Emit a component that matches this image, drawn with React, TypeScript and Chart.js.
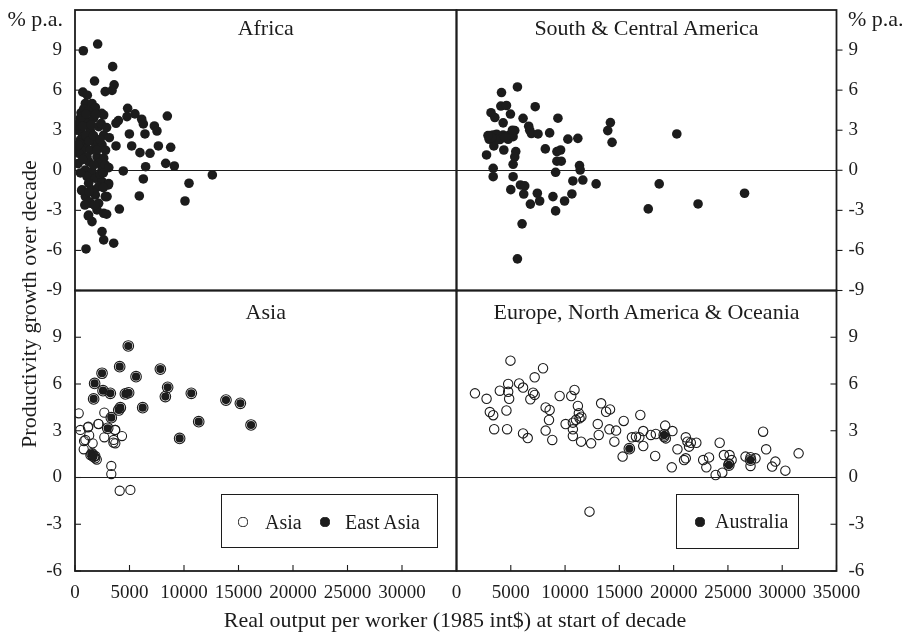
import React, { useEffect, useRef } from 'react';
import { Chart, registerables } from 'chart.js';

Chart.register(...registerables);

const FONT = "'Liberation Serif', 'Times New Roman', serif";
const INK = '#1c1c1c';
const W = 905;
const H = 633;

// ---- data: [real output per worker (1985 int$), productivity growth % p.a.] ----
const africa: number[][] = [
  [765, 8.95], [2080, 9.45], [3455, 7.76], [1790, 6.68], [3590, 6.4], [2770, 5.89], [3400, 5.98], [720, 5.85], [1130, 5.62],
  [950, 5.0], [1560, 5.0], [1865, 4.7], [2630, 4.14], [2450, 4.26], [490, 3.9], [340, 3.5], [1100, 3.64], [1710, 3.9],
  [2170, 3.27], [1400, 3.0], [640, 2.77], [490, 2.27], [950, 1.9], [640, 1.5], [340, 1.27], [1400, 1.5], [1865, 2.0],
  [2480, 1.9], [2630, 2.64], [2020, 1.0], [2630, 0.9], [2170, 0.52], [1250, 0.65], [950, 0.02], [1560, -0.1], [2480, 0.02],
  [2780, 0.4], [1100, -0.47], [1865, -0.6], [1250, -0.97], [2480, -0.85], [3090, -1.0], [640, -1.47], [1560, -1.47],
  [2170, -1.22], [950, -1.97], [1865, -1.85], [2780, -1.97], [1400, -2.47], [2170, -2.47], [2020, -2.97], [2630, -3.22],
  [1250, -3.35], [1560, -3.84], [2900, -3.29], [4070, -2.9], [2940, -1.97], [2480, -4.59], [2630, -5.21], [3550, -5.46],
  [1010, -5.89], [4830, 4.64], [5500, 4.22], [4770, 4.02], [3980, 3.72], [3760, 3.52], [6120, 3.82], [6270, 3.47],
  [7280, 3.32], [7520, 2.94], [8470, 4.06], [4990, 2.72], [6420, 2.72], [3150, 2.44], [5200, 1.82], [3760, 1.82],
  [7650, 1.82], [8780, 1.72], [5960, 1.32], [6880, 1.27], [8320, 0.52], [9110, 0.32], [6480, 0.27], [4430, -0.05],
  [6270, -0.65], [5900, -1.92], [10460, -0.97], [10090, -2.3], [12600, -0.35], [3060, -1.1], [1320, -2.35], [610, -1.52],
  [1770, -1.72], [1220, -3.42], [180, 3.0], [180, 1.8], [280, 0.5], [400, 2.0], [550, 4.3], [800, 4.6], [1200, 4.4],
  [1900, 4.2], [300, 1.9], [700, 3.3], [1000, 2.6], [1300, 2.2], [1700, 2.6], [2300, 2.3], [2000, 1.5], [1100, 1.0],
  [700, 0.8], [500, -0.2], [1700, 0.4], [2300, -0.3], [2600, -1.3], [1300, -1.6], [900, -2.6], [1800, -2.6], [600, 4.0],
  [1500, 3.4], [2400, 3.5], [2900, 3.2], [2800, 1.5], [2600, -0.2], [3100, 0.2], [1000, 4.2],
];

const southCentralAmerica: number[][] = [
  [5612, 6.24], [4144, 5.82], [4083, 4.81], [4602, 4.85], [3180, 4.31], [3532, 3.95], [4297, 3.55], [4969, 4.21],
  [6131, 3.89], [7250, 4.76], [6650, 3.3], [6743, 3.0], [6900, 2.75], [7507, 2.72], [5367, 2.97], [5214, 2.52],
  [4755, 2.32], [4297, 2.64], [3379, 2.64], [3012, 2.32], [3440, 1.82], [4358, 1.52], [2767, 1.15], [5459, 1.4],
  [5367, 1.0], [5214, 0.45], [3379, 0.15], [3379, -0.48], [5214, -0.48], [5000, -1.45], [5887, -1.1], [6284, -1.17],
  [6193, -1.78], [6804, -2.53], [6040, -4.01], [5612, -6.63], [7446, -1.72], [7660, -2.3], [8578, 2.8], [8180, 1.6],
  [9342, 3.9], [9250, 1.4], [9587, 1.52], [9250, 0.68], [9648, 0.68], [9128, -0.15], [8884, -1.97], [9128, -3.04],
  [9954, -2.3], [10260, 2.33], [11177, 2.39], [10719, -0.8], [10627, -1.77], [11330, 0.35], [11391, 0.02], [11636, -0.73],
  [12860, -1.02], [13930, 2.97], [14175, 3.57], [14328, 2.09], [17661, -2.89], [18671, -1.02], [20291, 2.72],
  [22249, -2.52], [26530, -1.72], [3100, 2.6], [3700, 2.7], [4000, 2.3], [3600, 2.3], [4800, 2.6], [5100, 2.7],
  [3250, 2.45], [4500, 2.45], [5150, 3.0], [2900, 2.6],
];

const eastAsia: number[][] = [
  [4890, 8.44], [4100, 7.11], [2480, 6.69], [5600, 6.47], [7830, 6.96], [1800, 6.04], [8500, 5.79], [8290, 5.19],
  [10670, 5.4], [13850, 4.97], [15170, 4.76], [2570, 5.57], [3240, 5.4], [4620, 5.36], [4920, 5.44], [1710, 5.04],
  [4160, 4.48], [4010, 4.33], [6210, 4.48], [3330, 3.84], [11350, 3.58], [16150, 3.37], [3000, 3.16], [9600, 2.51],
  [1560, 1.51], [1700, 1.35],
];

const asiaOther: number[][] = [
  [340, 4.12], [2690, 4.16], [2170, 3.43], [490, 3.05], [1190, 3.22], [3700, 3.05], [4310, 2.66], [2690, 2.58],
  [3550, 2.41], [3700, 2.19], [950, 2.41], [800, 1.81], [1620, 2.19], [1865, 1.38], [1860, 1.23], [1410, 1.44],
  [3330, 0.74], [3330, 0.22], [4100, -0.85], [5080, -0.8], [830, 2.34], [1220, 3.26], [2140, 3.44], [3670, 3.05],
  [3520, 2.24], [2000, 1.15], [1300, 2.7], [1600, 1.5],
];

const australia: number[][] = [
  [15920, 1.85], [19130, 2.73], [25090, 0.8], [27080, 1.12],
];

const europeNAOceania: number[][] = [
  [1700, 5.4], [2770, 5.05], [3070, 4.2], [3380, 4.0], [3470, 3.1], [4600, 4.3], [4660, 3.1], [4970, 7.5], [4760, 6.0],
  [4760, 5.5], [4850, 5.05], [3990, 5.57], [5770, 6.04], [6130, 5.77], [7050, 5.44], [7200, 5.3], [6800, 5.02],
  [7200, 6.43], [7970, 7.01], [6130, 2.83], [6560, 2.53], [8210, 4.5], [8580, 4.33], [8520, 3.69], [8210, 3.01],
  [8820, 2.41], [9500, 5.23], [10570, 5.23], [10870, 5.62], [10050, 3.43], [10720, 3.52], [10720, 3.09], [10720, 2.66],
  [11180, 4.59], [11270, 4.12], [11330, 3.8], [11000, 3.7], [11500, 3.9], [11480, 2.3], [12400, 2.19], [13010, 3.43],
  [13100, 2.73], [13320, 4.76], [13780, 4.22], [14140, 4.37], [14080, 3.09], [14700, 3.01], [14540, 2.3], [15400, 3.63],
  [15300, 1.34], [16160, 2.58], [16530, 2.62], [16840, 2.58], [16930, 4.01], [17200, 2.98], [17900, 2.73], [18360, 2.79],
  [17200, 2.02], [18300, 1.38], [19220, 3.33], [19890, 2.98], [19130, 2.6], [19280, 2.51], [19830, 0.65], [20350, 1.81],
  [21120, 2.58], [21270, 2.3], [21580, 2.23], [22090, 2.23], [21420, 1.98], [21120, 1.23], [20960, 1.12], [22720, 1.12],
  [23260, 1.29], [23010, 0.65], [24240, 2.23], [23870, 0.16], [24480, 0.31], [24630, 1.44], [25150, 1.44], [25340, 1.12],
  [25090, 0.9], [26620, 1.34], [27080, 0.74], [27540, 1.23], [27080, 1.3], [28240, 2.94], [28520, 1.81], [29070, 0.7],
  [29370, 1.02], [30290, 0.44], [31510, 1.55], [12250, -2.19],
];

const X_MAX = 35000;
const X_STEP = 5000;
const Y_STEP = 3;
const Y_MAX = 12;

const pts = (arr: number[][]) => arr.map(([x, y]) => ({ x, y }));

const filled = (label: string, arr: number[][], r: number, order = 0) => ({
  label, data: pts(arr), order,
  pointRadius: r, pointBackgroundColor: INK, pointBorderColor: INK, pointBorderWidth: 0,
  showLine: false,
});
// open circles; members of the highlighted sub-group get a slightly larger ring
const hollow = (label: string, base: number[][], sub: number[][], r: number, rSub: number, order = 1) => ({
  label, data: pts([...base, ...sub]), order,
  pointRadius: [...base.map(() => r), ...sub.map(() => rSub)],
  pointBackgroundColor: 'rgba(0,0,0,0)', pointBorderColor: INK, pointBorderWidth: 1.1,
  showLine: false,
});

type Panel = {
  id: string; left: number; top: number; right: number; bottom: number;
  yMin: number; yPos: 'left' | 'right'; yOut: boolean;
  xLabels: boolean; hideLastX: boolean; xTicks: boolean;
  datasets: any[];
};

const panels: Panel[] = [
  { id: 'africa', left: 75, top: 10, right: 456.5, bottom: 290.5, yMin: -9, yPos: 'left', yOut: false,
    xLabels: false, hideLastX: true, xTicks: false, datasets: [filled('Africa', africa, 4.8)] },
  { id: 'sca', left: 456.5, top: 10, right: 836.5, bottom: 290.5, yMin: -9, yPos: 'right', yOut: true,
    xLabels: false, hideLastX: false, xTicks: false, datasets: [filled('South & Central America', southCentralAmerica, 4.8)] },
  { id: 'asia', left: 75, top: 290.5, right: 456.5, bottom: 571, yMin: -6, yPos: 'left', yOut: false,
    xLabels: true, hideLastX: true, xTicks: true,
    datasets: [filled('East Asia', eastAsia, 4.1, 0), hollow('Asia', asiaOther, eastAsia, 4.6, 5.3, 1)] },
  { id: 'enao', left: 456.5, top: 290.5, right: 836.5, bottom: 571, yMin: -6, yPos: 'right', yOut: false,
    xLabels: true, hideLastX: false, xTicks: true,
    datasets: [filled('Australia', australia, 4.2, 0), hollow('Europe, North America & Oceania', europeNAOceania, australia, 4.7, 5.3, 1)] },
];

const Y_AXIS_W = 45;
const X_AXIS_H = 40;

const framePlugin = {
  id: 'panelFrame',
  afterDatasetsDraw(chart: any, _args: any, opts: any) {
    const { ctx, chartArea: a, scales } = chart;
    ctx.save();
    ctx.strokeStyle = INK;
    ctx.lineWidth = 1.1;
    const ys = scales.y;
    const onRight = ys.position === 'right';
    const edge = onRight ? a.right : a.left;
    const sign = (onRight ? -1 : 1) * (opts.yOut ? -1 : 1);
    ys.ticks.forEach((t: any) => {
      if (t.value >= ys.max) return;
      const py = ys.getPixelForValue(t.value);
      ctx.beginPath();
      ctx.moveTo(edge, py);
      ctx.lineTo(edge + sign * 6, py);
      ctx.stroke();
    });
    if (opts.xTicks) {
      const xs = scales.x;
      xs.ticks.forEach((t: any) => {
        const px = xs.getPixelForValue(t.value);
        ctx.beginPath();
        ctx.moveTo(px, a.bottom);
        ctx.lineTo(px, a.bottom - 6);
        ctx.stroke();
      });
    }
    ctx.lineWidth = 1.8;
    ctx.strokeRect(a.left, a.top, a.right - a.left, a.bottom - a.top);
    ctx.restore();
  },
};

const zeroPad = (s: any) => {
  s.paddingLeft = 0; s.paddingRight = 0; s.paddingTop = 0; s.paddingBottom = 0;
};

function PanelChart({ p }: { p: Panel }) {
  const ref = useRef<HTMLCanvasElement>(null);
  useEffect(() => {
    const xH = p.xLabels ? X_AXIS_H : 0;
    const padLeft = p.yPos === 'left' ? p.left - Y_AXIS_W : p.left;
    const padRight = p.yPos === 'right' ? W - p.right - Y_AXIS_W : W - p.right;
    const chart = new Chart(ref.current as HTMLCanvasElement, {
      type: 'scatter',
      data: { datasets: p.datasets },
      plugins: [framePlugin],
      options: {
        responsive: false,
        animation: false,
        devicePixelRatio: 1,
        layout: { padding: { left: padLeft, top: p.top, right: padRight, bottom: H - p.bottom - xH } },
        plugins: {
          legend: { display: false },
          tooltip: { enabled: false },
          title: { display: false },
          panelFrame: { xTicks: p.xTicks, yOut: p.yOut },
        } as any,
        scales: {
          x: {
            type: 'linear', min: 0, max: X_MAX, position: 'bottom',
            afterFit: (s: any) => { s.height = xH; zeroPad(s); },
            grid: { display: false, drawTicks: false },
            border: { display: false },
            ticks: {
              display: p.xLabels, stepSize: X_STEP, autoSkip: false, maxRotation: 0, minRotation: 0, padding: 11,
              color: INK, font: { family: FONT, size: 19 },
              callback: (v: any) => (p.hideLastX && v >= X_MAX ? null : String(v)),
            },
          },
          y: {
            type: 'linear', min: p.yMin, max: Y_MAX, position: p.yPos,
            afterFit: (s: any) => { s.width = Y_AXIS_W; zeroPad(s); },
            grid: {
              drawTicks: false, lineWidth: 1.1,
              color: (c: any) => (c.tick && c.tick.value === 0 ? INK : 'rgba(0,0,0,0)'),
            },
            border: { display: false },
            ticks: {
              stepSize: Y_STEP, autoSkip: false, padding: p.yPos === 'left' ? 13 : 12,
              color: INK, font: { family: FONT, size: 19 },
              callback: (v: any) => (v >= Y_MAX ? null : String(v)),
            },
          },
        },
      } as any,
    });
    return () => chart.destroy();
  }, []);
  return <canvas ref={ref} width={W} height={H} style={{ position: 'absolute', left: 0, top: 0 }} />;
}

const txt = (size: number): React.CSSProperties => ({
  position: 'absolute', fontFamily: FONT, fontSize: size, lineHeight: `${size}px`, color: INK, whiteSpace: 'nowrap',
});

const dot = (cx: number, cy: number, r: number, fill: boolean): React.CSSProperties => ({
  position: 'absolute', left: cx - r, top: cy - r, width: 2 * r, height: 2 * r, borderRadius: '50%',
  boxSizing: 'border-box', background: fill ? INK : 'transparent', border: `1.2px solid ${INK}`,
});

export default function App() {
  return (
    <div style={{ position: 'absolute', left: 0, top: 0, width: W, height: H, background: '#fff', overflow: 'hidden' }}>
      {panels.map((p) => <PanelChart key={p.id} p={p} />)}

      {/* panel titles */}
      <div style={{ ...txt(22), left: 75, width: 381.5, top: 16.6, textAlign: 'center' }}>Africa</div>
      <div style={{ ...txt(22), left: 456.5, width: 380, top: 16.6, textAlign: 'center' }}>South &amp; Central America</div>
      <div style={{ ...txt(22), left: 75, width: 381.5, top: 300.9, textAlign: 'center' }}>Asia</div>
      <div style={{ ...txt(22), left: 456.5, width: 380, top: 300.9, textAlign: 'center' }}>Europe, North America &amp; Oceania</div>

      {/* units */}
      <div style={{ ...txt(22), left: 0, width: 63, top: 7.6, textAlign: 'right' }}>% p.a.</div>
      <div style={{ ...txt(22), left: 848, top: 7.6 }}>% p.a.</div>

      {/* axis titles */}
      <div style={{ ...txt(22), left: 155, width: 600, top: 608.6, textAlign: 'center' }}>
        Real output per worker (1985 int$) at start of decade
      </div>
      <div style={{ ...txt(22), left: 29.3 - 200, width: 400, top: 304.4 - 11, textAlign: 'center', transform: 'rotate(-90deg)' }}>
        Productivity growth over decade
      </div>

      {/* legends */}
      <div style={{ position: 'absolute', left: 221, top: 494, width: 217, height: 54, boxSizing: 'border-box', border: `1.5px solid ${INK}` }} />
      <div style={dot(243, 522, 4.6, false)} />
      <div style={{ ...txt(20), left: 265, top: 511.5 }}>Asia</div>
      <div style={dot(325, 522, 4.6, true)} />
      <div style={{ ...txt(20), left: 345, top: 511.5 }}>East Asia</div>

      <div style={{ position: 'absolute', left: 676, top: 494, width: 123, height: 55, boxSizing: 'border-box', border: `1.5px solid ${INK}` }} />
      <div style={dot(700, 522, 4.6, true)} />
      <div style={{ ...txt(20), left: 715, top: 510.5 }}>Australia</div>
    </div>
  );
}
